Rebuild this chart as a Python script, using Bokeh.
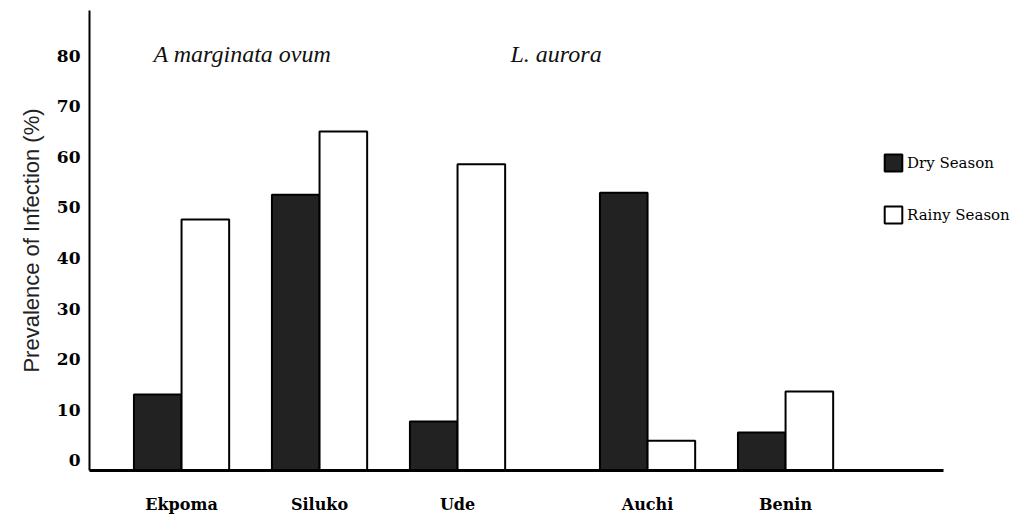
import numpy as np
from bokeh.plotting import figure
from bokeh.models import (ColumnDataSource, Range1d, FixedTicker, Legend, LegendItem, Label)
from bokeh.transform import dodge
from bokeh.embed import file_html
from bokeh.resources import INLINE

# ---- data ----
sites = ["Ekpoma", "Siluko", "Ude", "Auchi", "Benin"]
parasite = ["A marginata ovum", "A marginata ovum", "A marginata ovum", "L. aurora", "L. aurora"]
dry_season = [15.0, 54.5, 9.7, 54.9, 7.5]
rainy_season = [49.6, 67.0, 60.5, 5.9, 15.6]
y_ticks = [0, 10, 20, 30, 40, 50, 60, 70, 80]
group_titles = ["A marginata ovum", "L. aurora"]

# ---- layout parameters ----
GROUP_GAP = 0.377
BAR_W = 0.345
LABEL_SHIFT = 2  # tick labels sit slightly above their level in the original
AXIS_BOUNDS = (-0.667, 5.522)

group_index = [group_titles.index(g) for g in parasite]
centers = np.arange(len(sites)) + GROUP_GAP * np.array(group_index)

src = ColumnDataSource(dict(
    x=centers, site=sites, dry=dry_season, rainy=rainy_season,
))

p = figure(width=1022, height=519, output_backend="svg", toolbar_location=None,
           x_range=Range1d(AXIS_BOUNDS[0], 6.094), y_range=Range1d(0, 90.9),
           min_border_left=89, min_border_right=0, min_border_top=10, min_border_bottom=49)
p.outline_line_color = None
p.xgrid.grid_line_color = None
p.ygrid.grid_line_color = None
p.background_fill_color = "white"
p.border_fill_color = "white"

r_dry = p.vbar(x=dodge("x", -BAR_W / 2), top="dry", width=BAR_W, source=src,
               fill_color="#222222", line_color="black", line_width=2)
r_rainy = p.vbar(x=dodge("x", BAR_W / 2), top="rainy", width=BAR_W, source=src,
                 fill_color="white", line_color="black", line_width=2)

# x axis
xa = p.xaxis[0]
xa.bounds = AXIS_BOUNDS
xa.ticker = FixedTicker(ticks=list(centers))
xa.major_label_overrides = {float(c): s for c, s in zip(centers, sites)}
xa.axis_line_color = "black"
xa.axis_line_width = 3
xa.major_tick_line_color = None
xa.minor_tick_line_color = None
xa.major_tick_out = 0
xa.major_tick_in = 0
xa.major_label_standoff = 24
xa.major_label_text_font = "DejaVu Serif"
xa.major_label_text_font_style = "bold"
xa.major_label_text_font_size = "16px"
xa.major_label_text_color = "black"

# y axis
ya = p.yaxis[0]
ya.ticker = FixedTicker(ticks=[t + LABEL_SHIFT for t in y_ticks])
ya.major_label_overrides = {t + LABEL_SHIFT: str(t) for t in y_ticks}
ya.axis_line_color = "black"
ya.axis_line_width = 2
ya.major_tick_line_color = None
ya.minor_tick_line_color = None
ya.major_tick_out = 0
ya.major_tick_in = 0
ya.major_label_standoff = 9
ya.major_label_text_font = "DejaVu Serif"
ya.major_label_text_font_style = "bold"
ya.major_label_text_font_size = "17px"
ya.major_label_text_color = "black"
ya.axis_label = "Prevalence of Infection (%)"
ya.axis_label_text_font = "Liberation Sans"
ya.axis_label_text_font_style = "normal"
ya.axis_label_text_font_size = "22px"
ya.axis_label_text_color = "#222222"
ya.axis_label_standoff = 10

# group titles
for txt, xpos in zip(group_titles, [64, 421]):
    p.add_layout(Label(x=xpos, y=417, x_units="screen", y_units="screen", text=txt,
                       text_font="Liberation Serif", text_font_style="italic",
                       text_font_size="24px", text_color="#111111",
                       text_baseline="alphabetic", text_align="left"))

legend = Legend(items=[LegendItem(label="Dry Season", renderers=[r_dry]),
                       LegendItem(label="Rainy Season", renderers=[r_rainy])],
                location=(793, 245), orientation="vertical")
legend.border_line_color = None
legend.background_fill_alpha = 0
legend.padding = 0
legend.margin = 0
legend.spacing = 31
legend.glyph_width = 22
legend.glyph_height = 21
legend.label_height = 21
legend.label_standoff = 3
legend.label_text_font = "DejaVu Serif"
legend.label_text_font_size = "15px"
legend.label_text_color = "black"
p.add_layout(legend, "center")

open("out.html", "w").write(file_html(p, INLINE))
